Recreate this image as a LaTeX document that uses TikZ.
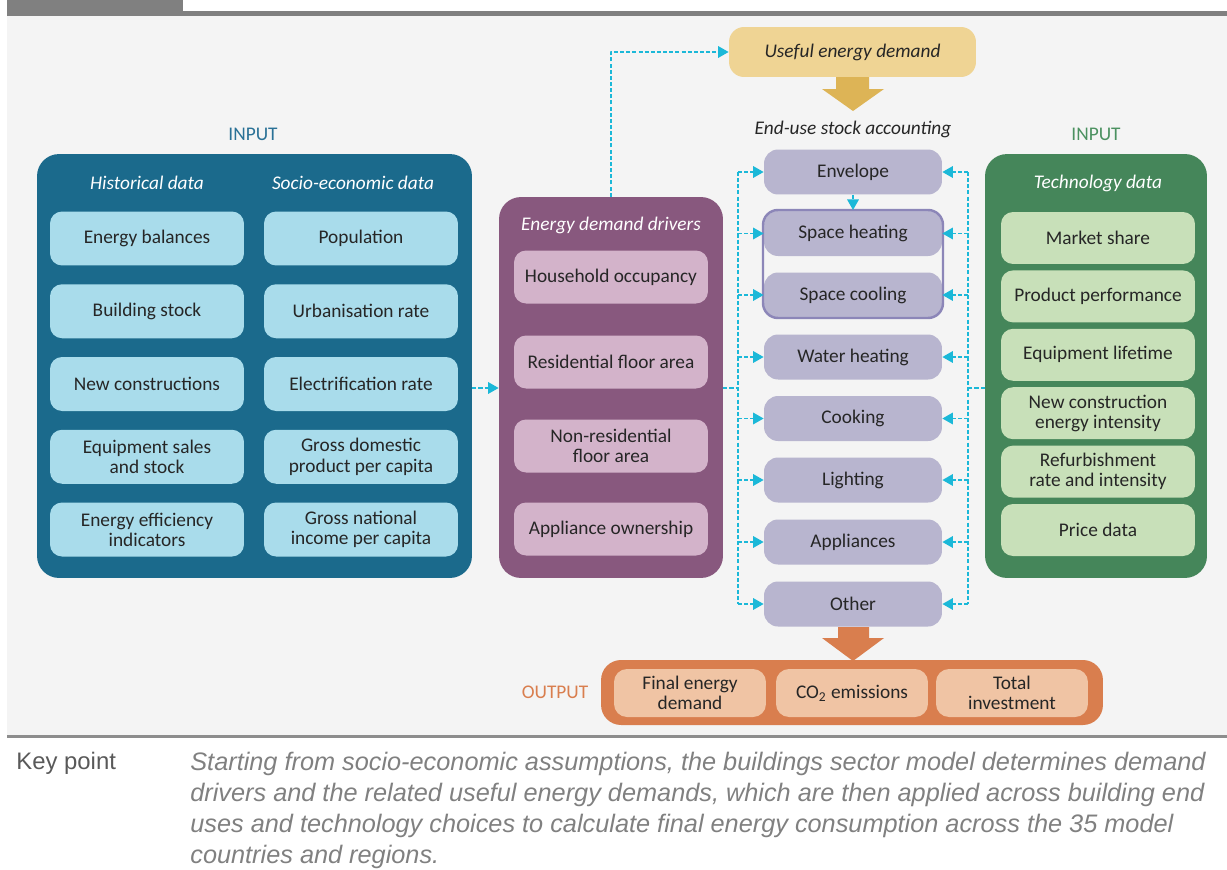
\documentclass[tikz,border=0pt]{standalone}
\usepackage{fontspec}
\setmainfont{Carlito}
\newfontfamily\keyfont{Liberation Sans}
\usetikzlibrary{arrows.meta}
\definecolor{bgc}{HTML}{F4F4F4}
\definecolor{barc}{HTML}{808080}
\definecolor{txt}{HTML}{262626}
\definecolor{bluep}{HTML}{1B6A8C}
\definecolor{bluet}{HTML}{A9DCEB}
\definecolor{bluel}{HTML}{2A7196}
\definecolor{purp}{HTML}{88587E}
\definecolor{purt}{HTML}{D3B3CA}
\definecolor{usec}{HTML}{B8B5CF}
\definecolor{outl}{HTML}{8C86B8}
\definecolor{goldt}{HTML}{EFD494}
\definecolor{golda}{HTML}{DDB456}
\definecolor{greenp}{HTML}{45865A}
\definecolor{greent}{HTML}{C8E0B9}
\definecolor{greenl}{HTML}{4B9160}
\definecolor{orap}{HTML}{D97E4E}
\definecolor{orat}{HTML}{F0C4A4}
\definecolor{cyanl}{HTML}{1BB8D8}
\begin{document}
\begin{tikzpicture}[x=0.02cm,y=-0.02cm,line join=round,>={Triangle[length=6pt,width=6.5pt]},
	tile/.style={rounded corners=0.24cm,minimum width=3.88cm,minimum height=1.08cm,align=center,text=txt,inner sep=1pt,font=\fontsize{11}{11.5}\selectfont},
	enduse/.style={tile,fill=usec,minimum width=3.56cm,minimum height=0.9cm,rounded corners=0.28cm},
	panel/.style={rounded corners=0.44cm,minimum width=8.7cm,minimum height=8.48cm},
	head/.style={font=\fontsize{11}{12}\selectfont\itshape},
	link/.style={draw=cyanl,line width=1.1pt,dash pattern=on 2.3pt off 1.2pt}]
	\useasboundingbox (0,0) rectangle (1227,869);
	\fill[bgc] (7,16) rectangle (1227,736);
	\fill[barc] (7,0) rectangle (183,16);
	\fill[barc] (183,11) rectangle (1227,16);
	\draw[barc!90,line width=1.2pt] (7,736.5) -- (1227,736.5);
	% panels
	\node[panel,fill=bluep] (P1) at (254.5,366) {};
	\node[panel,fill=purp,minimum width=4.48cm,minimum height=7.62cm] (P2) at (611,387.5) {};
	\node[panel,fill=greenp,minimum width=4.44cm] (P3) at (1096,366) {};
	\node[panel,fill=orap,minimum width=10.04cm,minimum height=1.3cm,rounded corners=0.4cm] (P4) at (852,692.5) {};
	\node[font=\fontsize{11}{12}\selectfont,text=bluel] (I1) at (253,134) {INPUT};
	\node[font=\fontsize{11}{12}\selectfont,text=greenl] (I2) at (1096,134) {INPUT};
	\node[font=\fontsize{11}{12}\selectfont,text=orap] (I3) at (555,692) {OUTPUT};
	\node[head,text=white] at (147,183) {Historical data};
	\node[head,text=white] at (353,183) {Socio-economic data};
	\node[head,text=white] at (611,225) {Energy demand drivers};
	\node[head,text=white] at (1098,183) {Technology data};
	\node[head,text=txt] at (853,129) {End-use stock accounting};
	% input tiles
	\foreach \t [count=\i] in {Energy balances,Building stock,New constructions,Equipment sales\\and stock,Energy efficiency\\indicators}
		\node[tile,fill=bluet] (H\i) at (147,{238.5+72.75*(\i-1)}) {\t};
	\foreach \t [count=\i] in {Population,Urbanisation rate,Electrification rate,Gross domestic\\product per capita,Gross national\\income per capita}
		\node[tile,fill=bluet] (S\i) at (361,{238.5+72.75*(\i-1)}) {\t};
	\foreach \t/\y [count=\i] in {Household occupancy/277,Residential floor area/362,Non-residential\\floor area/446,Appliance ownership/529}
		\node[tile,fill=purt,minimum height=1.06cm] (D\i) at (611,\y) {\t};
	\foreach \t [count=\i] in {Market share,Product performance,Equipment lifetime,New construction\\energy intensity,Refurbishment\\rate and intensity,Price data}
		\node[tile,fill=greent,minimum height=1.04cm] (T\i) at (1098,{238+58.4*(\i-1)}) {\t};
	\foreach \t/\y [count=\i] in {Envelope/172,Space heating/233.5,Space cooling/295,Water heating/357,Cooking/418.5,Lighting/480,Appliances/542,Other/604}
		\node[enduse] (E\i) at (853,\y) {\t};
	\draw[outl,line width=1.4pt,rounded corners=0.3cm] (763,210) rectangle (943,318);
	\coordinate (G) at (853,210);
	\foreach \t/\x [count=\i] in {Final energy\\demand/690,CO\textsubscript{2} emissions/852,Total\\investment/1012}
		\node[tile,fill=orat,minimum width=3.04cm,minimum height=0.96cm,rounded corners=0.26cm] (O\i) at (\x,693) {\t};
	\node[tile,fill=goldt,minimum width=4.94cm,minimum height=1.0cm,rounded corners=0.3cm,font=\fontsize{11}{12}\selectfont\itshape] (U) at (852.5,52) {Useful energy demand};
	% block arrows
	\fill[golda] (836,77) -- (869,77) -- (869,89) -- (884,89) -- (853,111) -- (822,89) -- (836,89) -- cycle;
	\fill[orap] (838,627) -- (869,627) -- (869,638) -- (884,638) -- (853,661) -- (822,638) -- (838,638) -- cycle;
	% dashed links
	\coordinate (L) at (738,388);
	\coordinate (R) at (968,388);
	\draw[link,->] (P1.east |- L) -- (P2.west |- L);
	\draw[link,->] (P2.north) |- (U.west);
	\draw[link,->] (E1.south) -- (G);
	\draw[link] (P2.east |- L) -- (L);
	\draw[link] (P3.west |- R) -- (R);
	\draw[link] (L |- E1) -- (L |- E8);
	\draw[link] (R |- E1) -- (R |- E8);
	\foreach \i in {1,...,8} {
		\draw[link,->] (L |- E\i) -- (E\i.west);
		\draw[link,->] (R |- E\i) -- (E\i.east);
	}
	% key point
	\node[anchor=north west,inner sep=0pt,text=black!65,font=\keyfont\fontsize{13.6}{17.6}\selectfont] (K) at (16,752) {Key point};
	\node[anchor=north west,inner sep=0pt,align=left,text=black!50,font=\keyfont\fontsize{14.4}{17.6}\selectfont\itshape] (KT) at (190,752) {Starting from socio-economic assumptions, the buildings sector model determines demand\\drivers and the related useful energy demands, which are then applied across building end\\uses and technology choices to calculate final energy consumption across the 35 model\\countries and regions.};
\end{tikzpicture}
\end{document}
